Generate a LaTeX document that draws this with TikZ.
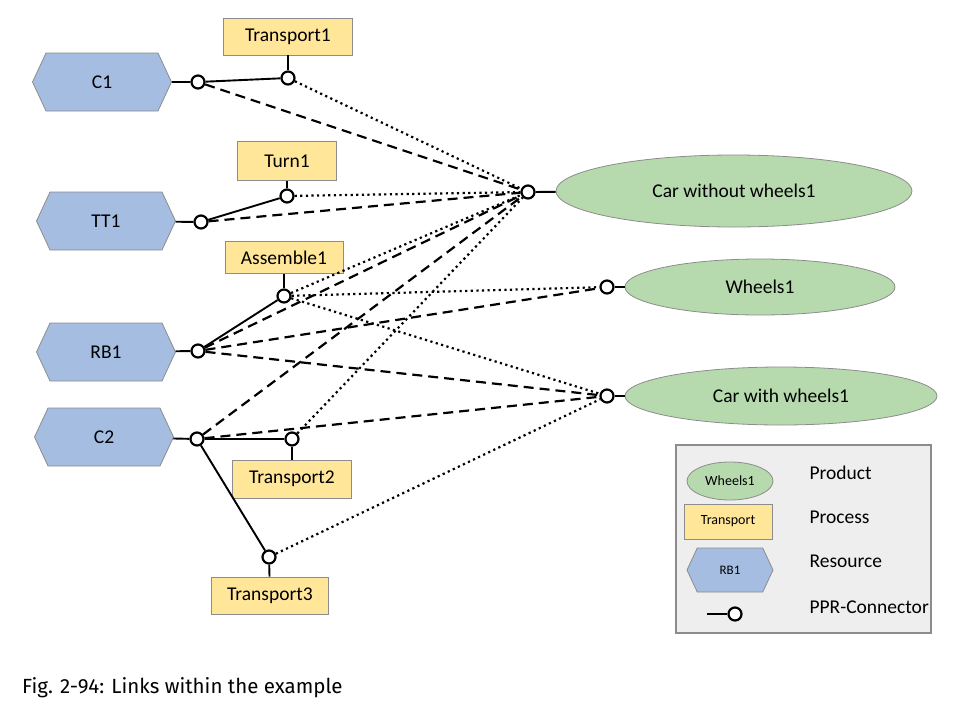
\documentclass[tikz,border=0pt]{standalone}
\usepackage{fontspec}
\setmainfont{Carlito}
\newfontfamily\capfont{Fira Sans}
\usepackage{xcolor}
\usepackage{tikz}
\usetikzlibrary{shapes.geometric,shapes.symbols}

\definecolor{resblue}{HTML}{A5BDE1}
\definecolor{procyellow}{HTML}{FFE699}
\definecolor{prodgreen}{HTML}{B6DAAE}
\definecolor{edgegray}{HTML}{8C8C8C}
\definecolor{legfill}{HTML}{EEEEEE}

\begin{document}
\begin{tikzpicture}[x=1pt, y=-1pt, font=\fontsize{19.5}{22}\selectfont,
    resource/.style={shape=signal, signal to=west and east, signal pointer angle=130,
      fill=resblue, draw=edgegray, line width=0.8pt, minimum width=139pt, minimum height=58pt, inner sep=0pt},
    process/.style={rectangle, fill=procyellow, draw=edgegray, line width=0.8pt, minimum height=37pt, inner sep=0pt},
    product/.style={ellipse, fill=prodgreen, draw=edgegray, line width=0.8pt, inner sep=0pt},
    port/.style={circle, draw=black, line width=2.2pt, fill=white, minimum size=13pt, inner sep=0pt},
    link/.style={line width=1.9pt},
    dashlink/.style={line width=2.2pt, dash pattern=on 10pt off 6pt},
    dotlink/.style={line width=2.2pt, dash pattern=on 2.2pt off 3.4pt}]
  \useasboundingbox (0,0) rectangle (955,723);

  % Resources
  \node[resource] (c1) at (102,82) {C1};
  \node[resource] (tt1) at (106,221) {TT1};
  \node[resource] (rb1) at (106,352) {RB1};
  \node[resource] (c2) at (104,437) {C2};

  % Processes
  \node[process, minimum width=129pt] (transport1) at (288,36.5) {Transport1};
  \node[process, minimum width=99pt, minimum height=39pt] (turn1) at (287,161) {Turn1};
  \node[process, minimum width=118pt, minimum height=32pt] (assemble1) at (284,257.5) {Assemble1};
  \node[process, minimum width=119pt, minimum height=38pt] (transport2) at (292,479) {Transport2};
  \node[process, minimum width=117pt] (transport3) at (270,595.5) {Transport3};

  % Products
  \node[product, minimum width=356pt, minimum height=72pt] (carwo) at (734,191) {Car without wheels1};
  \node[product, minimum width=270pt, minimum height=56pt] (wheels) at (760,287) {Wheels1};
  \node[product, minimum width=312pt, minimum height=58pt] (carw) at (781,396) {Car with wheels1};

  % PPR connectors
  \node[port] (pc1) at (198,82) {};
  \node[port] (pt1) at (288,78) {};
  \node[port] (ptt1) at (201,222) {};
  \node[port] (pturn1) at (287,196) {};
  \node[port] (prb1) at (198,351) {};
  \node[port] (pa1) at (284,296) {};
  \node[port] (pc2) at (197,439) {};
  \node[port] (pt2) at (292,439) {};
  \node[port] (pt3) at (269,557) {};
  \node[port] (pcarwo) at (528,192) {};
  \node[port] (pwheels) at (607,287) {};
  \node[port] (pcarw) at (607,396) {};

  % Solid links
  \foreach \a/\b in {c1/pc1, pc1/pt1, transport1/pt1, tt1/ptt1, ptt1/pturn1, turn1/pturn1,
      rb1/prb1, prb1/pa1, assemble1/pa1, c2/pc2, pc2/pt2, transport2/pt2, pc2/pt3,
      transport3/pt3, carwo/pcarwo, wheels/pwheels, carw/pcarw}
    \draw[link] (\a) -- (\b);

  % Resource-product links (dashed)
  \foreach \a/\b in {pc1/pcarwo, ptt1/pcarwo, prb1/pcarwo, prb1/pwheels, prb1/pcarw,
      pc2/pcarwo, pc2/pcarw}
    \draw[dashlink] (\a) -- (\b);

  % Process-product links (dotted)
  \foreach \a/\b in {pt1/pcarwo, pturn1/pcarwo, pa1/pcarwo, pa1/pwheels, pa1/pcarw,
      pt2/pcarwo, pt3/pcarw}
    \draw[dotlink] (\a) -- (\b);

  % Legend
  \draw[draw=edgegray, fill=legfill, line width=1.8pt] (676,445) rectangle (931,633);
  \node[product, minimum width=86pt, minimum height=38pt, font=\fontsize{14}{16}\selectfont] (legprod) at (730,481) {Wheels1};
  \node[process, minimum width=88pt, minimum height=35pt, font=\fontsize{14}{16}\selectfont] (legproc) at (728,521.5) {Transport};
  \node[resource, minimum width=86pt, minimum height=44pt, font=\fontsize{13}{15}\selectfont] (legres) at (730,570) {RB1};
  \coordinate (legline) at (707,614);
  \node[port] (legport) at (735,614) {};
  \draw[link] (legline) -- (legport);
  \node[anchor=west] (legprodtxt) at (806,473) {Product};
  \node[anchor=west] (legproctxt) at (806,517) {Process};
  \node[anchor=west] (legrestxt) at (806,561) {Resource};
  \node[anchor=west] (legporttxt) at (806,607) {PPR-Connector};

  % Caption
  \node[anchor=west, inner sep=0pt, font=\capfont\fontsize{20.5}{24}\selectfont] (caption) at (22,688) {Fig. 2-94: Links within the example};
\end{tikzpicture}
\end{document}
